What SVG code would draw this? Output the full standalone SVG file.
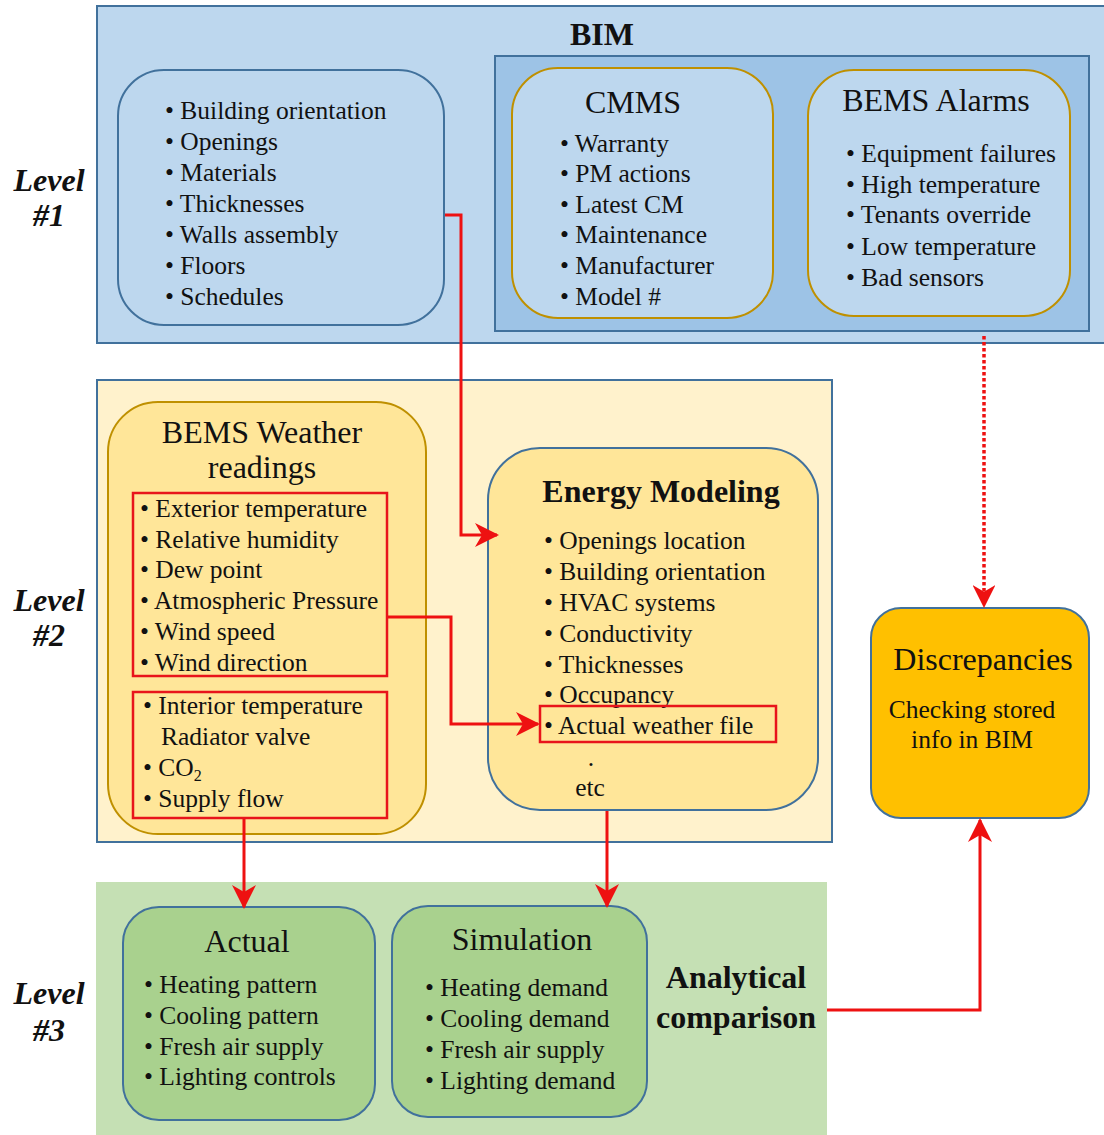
<svg xmlns="http://www.w3.org/2000/svg" width="1104" height="1135" viewBox="0 0 1104 1135">
  <style>
    text { font-family: "Liberation Serif", "Times New Roman", serif; fill: #111; }
    .item { font-size: 25.5px; }
    .title { font-size: 32px; }
    .bold { font-weight: bold; }
    .lvl { font-size: 32px; font-weight: bold; font-style: italic; text-anchor: middle; }
    .mid { text-anchor: middle; }
    .panel-blue { fill: #bdd7ee; stroke: #41719c; stroke-width: 2; }
    .panel-inner { fill: #9dc3e6; stroke: #41719c; stroke-width: 2; }
    .panel-yellow { fill: #fff2cc; stroke: #41719c; stroke-width: 2; }
    .panel-green { fill: #c5e0b4; }
    .box-blue { fill: #bdd7ee; stroke: #41719c; stroke-width: 2; }
    .box-gold { fill: #bdd7ee; stroke: #bf9000; stroke-width: 2; }
    .box-yw { fill: #ffe699; stroke: #bf9000; stroke-width: 2; }
    .box-yb { fill: #ffe699; stroke: #41719c; stroke-width: 2; }
    .box-or { fill: #ffc000; stroke: #41719c; stroke-width: 2; }
    .box-gr { fill: #a9d18e; stroke: #41719c; stroke-width: 2; }
    .hl { fill: none; stroke: #e8141b; stroke-width: 2.5; }
    .wire { fill: none; stroke: #ee1111; stroke-width: 3; }
    .dotted { stroke-width: 3.5; stroke-dasharray: 3.5 2.5; }
  </style>
  <defs>
    <marker id="arrow" viewBox="0 0 12 12" refX="11" refY="6" markerWidth="8" markerHeight="8" markerUnits="strokeWidth" orient="auto">
      <path d="M0,0 L12,6 L0,12 L3.5,6 z" fill="#ee1111"/>
    </marker>
    <marker id="arrow-dot" viewBox="0 0 12 12" refX="11" refY="6" markerWidth="6.5" markerHeight="6.5" markerUnits="strokeWidth" orient="auto">
      <path d="M0,0 L12,6 L0,12 L3.5,6 z" fill="#ee1111"/>
    </marker>
  </defs>

  <rect width="1104" height="1135" fill="#ffffff"/>

  <!-- Level labels -->
  <g id="level-labels">
    <text class="lvl" x="49" y="191">Level</text>
    <text class="lvl" x="49" y="226">#1</text>
    <text class="lvl" x="49" y="611">Level</text>
    <text class="lvl" x="49" y="646">#2</text>
    <text class="lvl" x="49" y="1004">Level</text>
    <text class="lvl" x="49" y="1041">#3</text>
  </g>

  <!-- Level 1: BIM -->
  <g id="bim">
    <rect class="panel-blue" x="97" y="6" width="1010" height="337"/>
    <text class="title bold mid" x="602" y="45">BIM</text>
    <rect class="panel-inner" x="495" y="56" width="594" height="275"/>
  </g>

  <g id="bim-properties">
    <rect class="box-blue" x="118" y="70" width="326" height="255" rx="46"/>
    <text class="item" x="165" y="119">• Building orientation</text>
    <text class="item" x="165" y="150">• Openings</text>
    <text class="item" x="165" y="181">• Materials</text>
    <text class="item" x="165" y="212">• Thicknesses</text>
    <text class="item" x="165" y="243">• Walls assembly</text>
    <text class="item" x="165" y="274">• Floors</text>
    <text class="item" x="165" y="305">• Schedules</text>
  </g>

  <g id="cmms">
    <rect class="box-gold" x="512" y="68" width="261" height="250" rx="46"/>
    <text class="title mid" x="633" y="113">CMMS</text>
    <text class="item" x="560" y="152">• Warranty</text>
    <text class="item" x="560" y="182">• PM actions</text>
    <text class="item" x="560" y="213">• Latest CM</text>
    <text class="item" x="560" y="243">• Maintenance</text>
    <text class="item" x="560" y="274">• Manufacturer</text>
    <text class="item" x="560" y="305">• Model #</text>
  </g>

  <g id="bems-alarms">
    <rect class="box-gold" x="808" y="70" width="262" height="246" rx="46"/>
    <text class="title mid" x="936" y="111">BEMS Alarms</text>
    <text class="item" x="846" y="162">• Equipment failures</text>
    <text class="item" x="846" y="193">• High temperature</text>
    <text class="item" x="846" y="223">• Tenants override</text>
    <text class="item" x="846" y="255">• Low temperature</text>
    <text class="item" x="846" y="286">• Bad sensors</text>
  </g>

  <!-- Level 2 -->
  <g id="level2">
    <rect class="panel-yellow" x="97" y="380" width="735" height="462"/>
  </g>

  <g id="bems-weather">
    <rect class="box-yw" x="108" y="402" width="318" height="432" rx="50"/>
    <text class="title mid" x="262" y="443">BEMS Weather</text>
    <text class="title mid" x="262" y="478">readings</text>
    <rect class="hl" x="133" y="493" width="254" height="183"/>
    <text class="item" x="140" y="517">• Exterior temperature</text>
    <text class="item" x="140" y="548">• Relative humidity</text>
    <text class="item" x="140" y="578">• Dew point</text>
    <text class="item" x="140" y="609">• Atmospheric Pressure</text>
    <text class="item" x="140" y="640">• Wind speed</text>
    <text class="item" x="140" y="671">• Wind direction</text>
    <rect class="hl" x="133" y="692" width="254" height="126"/>
    <text class="item" x="143" y="714">• Interior temperature</text>
    <text class="item" x="161" y="745">Radiator valve</text>
    <text class="item" x="143" y="776">• CO<tspan font-size="16" dy="5">2</tspan></text>
    <text class="item" x="143" y="807">• Supply flow</text>
  </g>

  <g id="energy-modeling">
    <rect class="box-yb" x="488" y="448" width="330" height="362" rx="52"/>
    <text class="title bold mid" x="661" y="502">Energy Modeling</text>
    <text class="item" x="544" y="549">• Openings location</text>
    <text class="item" x="544" y="580">• Building orientation</text>
    <text class="item" x="544" y="611">• HVAC systems</text>
    <text class="item" x="544" y="642">• Conductivity</text>
    <text class="item" x="544" y="673">• Thicknesses</text>
    <text class="item" x="544" y="703">• Occupancy</text>
    <rect class="hl" x="540" y="706" width="236" height="36"/>
    <text class="item" x="544" y="734">• Actual weather file</text>
    <text class="item mid" x="591" y="766">.</text>
    <text class="item mid" x="590" y="796">etc</text>
  </g>

  <g id="discrepancies">
    <rect class="box-or" x="871" y="608" width="218" height="210" rx="30"/>
    <text class="title mid" x="983" y="670">Discrepancies</text>
    <text class="item mid" x="972" y="718">Checking stored</text>
    <text class="item mid" x="972" y="748">info in BIM</text>
  </g>

  <!-- Level 3 -->
  <g id="level3">
    <rect class="panel-green" x="96" y="882" width="731" height="253"/>
    <text class="title bold mid" x="736" y="988">Analytical</text>
    <text class="title bold mid" x="736" y="1028">comparison</text>
  </g>

  <g id="actual">
    <rect class="box-gr" x="123" y="907" width="252" height="213" rx="36"/>
    <text class="title mid" x="247" y="952">Actual</text>
    <text class="item" x="144" y="993">• Heating pattern</text>
    <text class="item" x="144" y="1024">• Cooling pattern</text>
    <text class="item" x="144" y="1055">• Fresh air supply</text>
    <text class="item" x="144" y="1085">• Lighting controls</text>
  </g>

  <g id="simulation">
    <rect class="box-gr" x="392" y="906" width="255" height="211" rx="36"/>
    <text class="title mid" x="522" y="950">Simulation</text>
    <text class="item" x="425" y="996">• Heating demand</text>
    <text class="item" x="425" y="1027">• Cooling demand</text>
    <text class="item" x="425" y="1058">• Fresh air supply</text>
    <text class="item" x="425" y="1089">• Lighting demand</text>
  </g>

  <!-- Connectors -->
  <g id="connectors">
    <path class="wire" d="M445,215 H461 V535 H497" marker-end="url(#arrow)"/>
    <path class="wire" d="M388,617 H451 V724 H538" marker-end="url(#arrow)"/>
    <path class="wire" d="M244,819 V907" marker-end="url(#arrow)"/>
    <path class="wire" d="M607,811 V906" marker-end="url(#arrow)"/>
    <path class="wire dotted" d="M984,336 V606" marker-end="url(#arrow-dot)"/>
    <path class="wire" d="M827,1010 H980 V820" marker-end="url(#arrow)"/>
  </g>
</svg>
